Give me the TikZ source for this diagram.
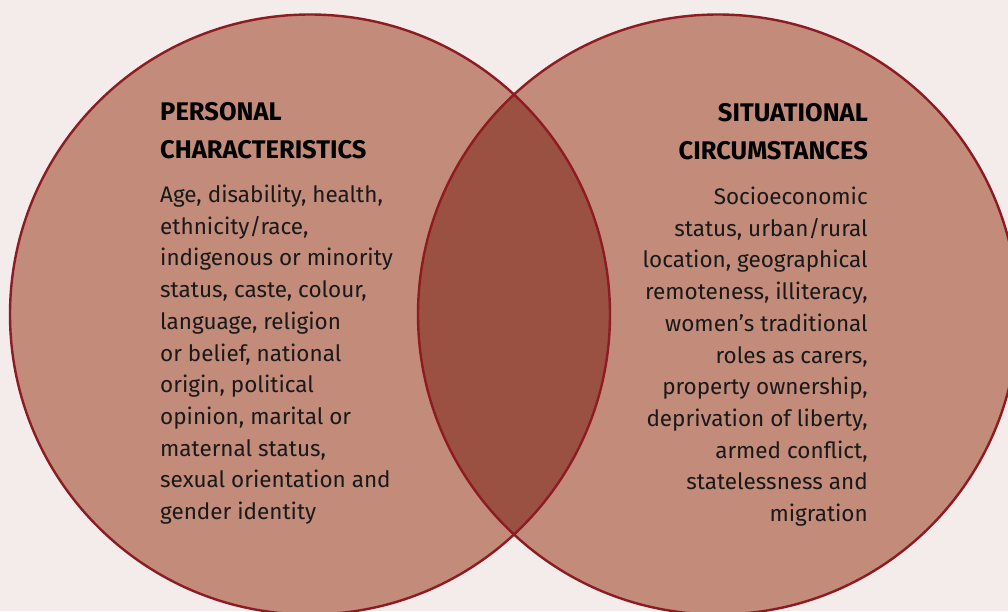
\documentclass[tikz,border=0pt]{standalone}
\usepackage{fontspec}
\setmainfont{Fira Sans}
\definecolor{bgc}{HTML}{F3ECEA}
\definecolor{circfill}{HTML}{C28B7A}
\definecolor{lensfill}{HTML}{9A5141}
\definecolor{edgec}{HTML}{8E1B22}
\tikzset{
  venn/.style={draw=edgec, line width=2.4pt},
  headtext/.style={inner sep=0pt, font=\fontsize{25.5}{38}\selectfont\bfseries, text=black},
  bodytext/.style={inner sep=0pt, font=\fontsize{22.5}{31.7}\selectfont, text=black!90}
}
\begin{document}
\begin{tikzpicture}[x=1pt,y=-1pt]
\fill[bgc] (0,0) rectangle (1008,611);
\useasboundingbox (0,0) rectangle (1008,611);
\begin{scope}
\clip (0,0) rectangle (1008,611);
\coordinate (cl) at (310,314.5);
\coordinate (cr) at (718,314.5);
\fill[circfill] (cl) circle[radius=300];
\fill[circfill] (cr) circle[radius=300];
\begin{scope}
\clip (cl) circle[radius=300];
\fill[lensfill] (cr) circle[radius=300];
\end{scope}
\draw[venn] (cl) circle[radius=300];
\draw[venn] (cr) circle[radius=300];
\end{scope}
\node[headtext, anchor=base west, align=left] (lh) at (160,158) {PERSONAL\\CHARACTERISTICS};
\node[bodytext, anchor=base west, align=left] (lb) at (160,519.5) {Age, disability, health,\\ethnicity/race,\\indigenous or minority\\status, caste, colour,\\language, religion\\or belief, national\\origin, political\\opinion, marital or\\maternal status,\\sexual orientation and\\gender identity};
\node[headtext, anchor=base east, align=right] (rh) at (868,159.5) {SITUATIONAL\\CIRCUMSTANCES};
\node[bodytext, anchor=base east, align=right] (rb) at (868,521.5) {Socioeconomic\\status, urban/rural\\location, geographical\\remoteness, illiteracy,\\women’s traditional\\roles as carers,\\property ownership,\\deprivation of liberty,\\armed conflict,\\statelessness and\\migration};
\end{tikzpicture}
\end{document}
